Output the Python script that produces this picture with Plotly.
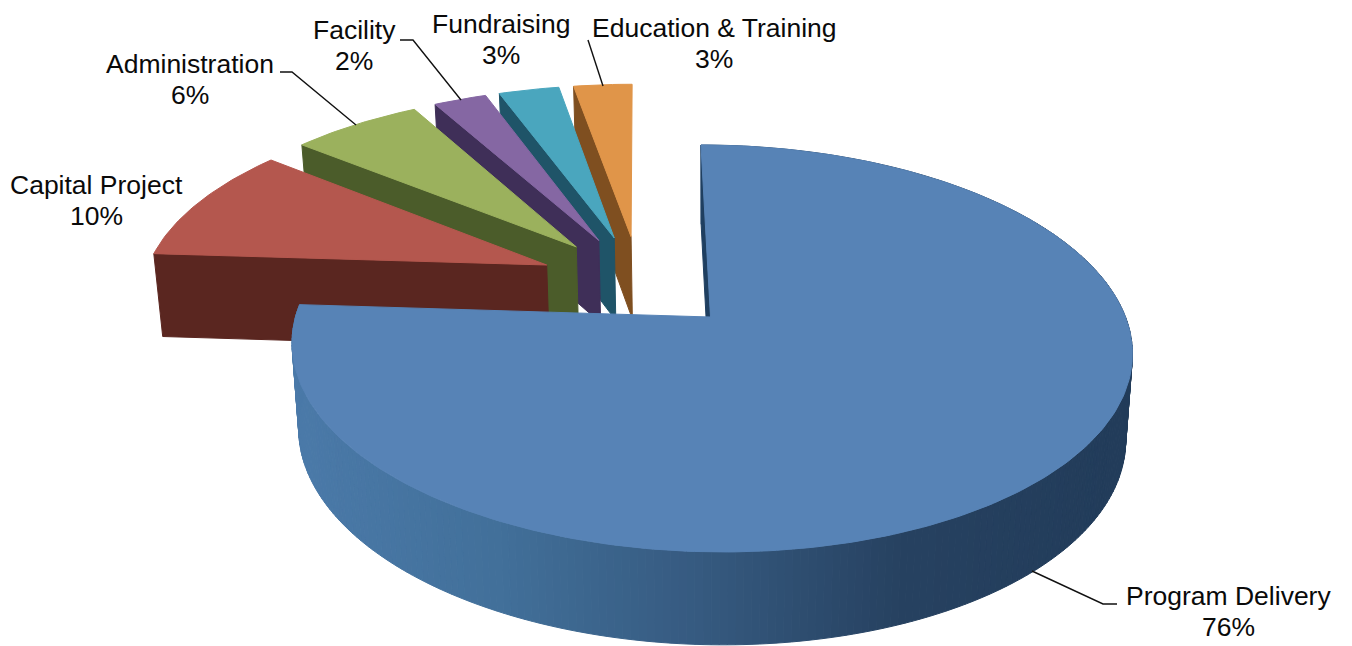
import numpy as np
import plotly.graph_objects as go

# ---- data ----
categories = ["Program Delivery", "Capital Project", "Administration", "Facility", "Fundraising", "Education & Training"]
shares = [76.0, 9.8, 6.12, 2.49, 2.84, 2.75]
top_colors = ["#5783b6", "#b4574e", "#9bb15d", "#8567a3", "#4aa6be", "#e09549"]
side_colors = ["#1f3f60", "#5a2620", "#4b5c2a", "#3f2f58", "#1f5468", "#7f4f20"]

# ---- 3D look of the pie ----
X0, Y0, SX, SY, SHEAR, PERSP = 710.5, 317.0, 415.0, 198.6, -11.0, 0.1547
EXPLODE = 0.25
DEPTH, DEPTH_Y, DEPTH_X = 85.0, 0.0336, 0.984
RIM_X = [293, 500, 700, 900, 1133]
RIM_R = [0x4b, 0x42, 0x36, 0x27, 0x22]
RIM_G = [0x7a, 0x70, 0x5a, 0x42, 0x3c]
RIM_B = [0xa9, 0x9a, 0x80, 0x61, 0x5a]


def project(u, v, bottom=False):
    u, v = np.asarray(u, float), np.asarray(v, float)
    w = 1 + PERSP * v
    x = X0 + (SX * u + SHEAR * v) / w
    y = Y0 - SY * v / w
    if bottom:
        x, y = X0 + (x - X0) * DEPTH_X, y + DEPTH + (y - Y0) * DEPTH_Y
    return x, y


def poly(x, y, color):
    xs, ys = list(x), list(y)
    return go.Scatter(x=xs + xs[:1], y=ys + ys[:1], mode="lines", fill="toself", fillcolor=color,
                      line=dict(color=color, width=1), hoverinfo="skip", showlegend=False)


fig = go.Figure()
total = sum(shares)
edges = np.cumsum([0] + shares) / total * 2 * np.pi
mids = (edges[:-1] + edges[1:]) / 2
blue_apex = np.array([np.sin(mids[0]), np.cos(mids[0])]) * EXPLODE

# painted back to front
for i in [5, 4, 3, 2, 1, 0]:
    t0, t1 = edges[i], edges[i + 1]
    apex = np.array([np.sin(mids[i]), np.cos(mids[i])]) * EXPLODE - blue_apex
    th = np.linspace(t0, t1, max(8, int((t1 - t0) * 60)))
    ru, rv = apex[0] + np.sin(th), apex[1] + np.cos(th)

    # outer wall, shaded from left to right
    if i == 0:
        for k in range(len(th) - 1):
            xa, ya = project(ru[k:k + 2], rv[k:k + 2])
            xb, yb = project(ru[k:k + 2], rv[k:k + 2], True)
            xm = xa.mean()
            col = "rgb(%d,%d,%d)" % (np.interp(xm, RIM_X, RIM_R), np.interp(xm, RIM_X, RIM_G), np.interp(xm, RIM_X, RIM_B))
            fig.add_trace(poly(list(xa) + list(xb[::-1]), list(ya) + list(yb[::-1]), col))

    # cut face at the start angle
    fu, fv = [apex[0], ru[0]], [apex[1], rv[0]]
    xa, ya = project(fu, fv)
    xb, yb = project(fu, fv, True)
    fig.add_trace(poly(list(xa) + list(xb[::-1]), list(ya) + list(yb[::-1]), side_colors[i]))

    # top surface
    xt, yt = project(np.r_[apex[0], ru], np.r_[apex[1], rv])
    fig.add_trace(poly(xt, yt, top_colors[i]))

# ---- labels ----
label_x = [1228, 96, 190, 354, 501, 714]
label_y = [596, 185, 64, 30, 24, 28]
LINE_GAP = 31
FONT = dict(family="Liberation Sans, Arial, sans-serif", size=26.5, color="#0a0a0a")
for name, s, lx, ly in zip(categories, shares, label_x, label_y):
    for txt, yy in ((name, ly), ("%d%%" % round(s / total * 100), ly + LINE_GAP)):
        fig.add_annotation(x=lx, y=yy, text=txt, showarrow=False, font=FONT, xanchor="center", yanchor="middle")

leaders = [
    "M 1032 571 L 1103 604 L 1117 604",
    "M 280 72 L 292 72 L 356 125",
    "M 400 40 L 413 40 L 461 100",
    "M 588 40 L 603 86",
]
shapes = [dict(type="path", path=p, line=dict(color="#111111", width=1.4), layer="above") for p in leaders]

fig.update_layout(
    width=1352, height=646, autosize=False,
    margin=dict(l=0, r=0, t=0, b=0),
    paper_bgcolor="white", plot_bgcolor="white",
    showlegend=False, shapes=shapes,
    xaxis=dict(range=[0, 1352], visible=False, fixedrange=True),
    yaxis=dict(range=[646, 0], visible=False, fixedrange=True),
)
fig.write_html("out.html", config=dict(displayModeBar=False),
               post_script="document.body.style.margin='0';document.body.style.overflow='hidden';")
